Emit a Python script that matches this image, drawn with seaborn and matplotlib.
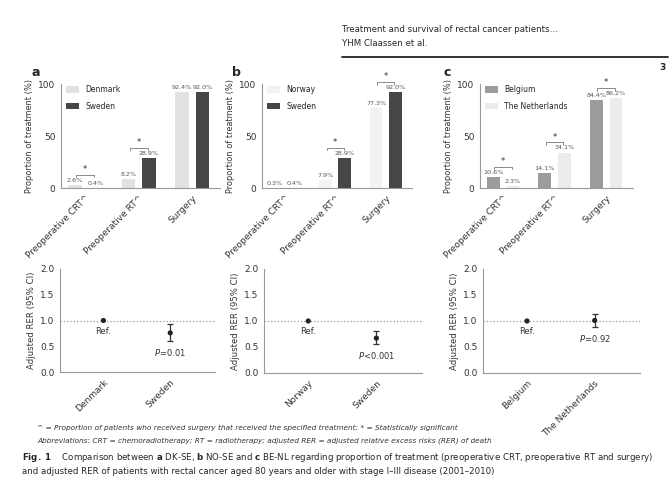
import matplotlib
matplotlib.use("Agg")
import matplotlib.pyplot as plt
import seaborn as sns
import pandas as pd

# treatment proportions (%)
treatments = ["Preoperative CRT^", "Preoperative RT^", "Surgery"]
denmark = [2.6, 8.2, 92.4]
sweden = [0.4, 28.9, 92.0]
norway = [0.3, 7.9, 77.3]
belgium = [10.6, 14.1, 84.4]
netherlands = [2.3, 34.1, 86.2]
sig_a = [True, True, False]
sig_b = [False, True, True]
sig_c = [True, True, True]

# adjusted RER (95% CI)
rer_a_names = ["Denmark", "Sweden"]
rer_a = [1.0, 0.76]
rer_a_lo = [1.0, 0.61]
rer_a_hi = [1.0, 0.94]
rer_a_notes = ["Ref.", r"$\it{P}$=0.01"]
rer_b_names = ["Norway", "Sweden"]
rer_b = [1.0, 0.67]
rer_b_lo = [1.0, 0.56]
rer_b_hi = [1.0, 0.81]
rer_b_notes = ["Ref.", r"$\it{P}$<0.001"]
rer_c_names = ["Belgium", "The Netherlands"]
rer_c = [1.0, 1.01]
rer_c_lo = [1.0, 0.89]
rer_c_hi = [1.0, 1.13]
rer_c_notes = ["Ref.", r"$\it{P}$=0.92"]

sns.set_style("white")
plt.rcParams['font.family'] = ['DejaVu Sans']
plt.rcParams['axes.edgecolor'] = '#999999'
plt.rcParams['xtick.color'] = '#999999'
plt.rcParams['ytick.color'] = '#999999'
plt.rcParams['xtick.labelcolor'] = '#333333'
plt.rcParams['ytick.labelcolor'] = '#333333'

W, H = 670, 504
fig = plt.figure(figsize=(W / 100, H / 100), dpi=100)


def box(x0, x1, y0, y1):
    return [x0 / W, 1 - y1 / H, (x1 - x0) / W, (y1 - y0) / H]


def style(ax):
    sns.despine(ax=ax)
    for s in ax.spines.values():
        s.set_linewidth(0.8)
    ax.tick_params(axis='both', length=2, width=0.6, labelsize=6.5, pad=2)
    for t in ax.get_xticklabels():
        t.set_rotation(45)
        t.set_ha('right')
        t.set_rotation_mode('anchor')


def bar_panel(rect, names, v1, v2, colors, sig, letter, letter_x):
    ax = fig.add_axes(box(*rect))
    df = pd.DataFrame({"treatment": treatments * 2,
                       "country": [names[0]] * 3 + [names[1]] * 3,
                       "value": v1 + v2})
    sns.barplot(data=df, x="treatment", y="value", hue="country",
                hue_order=names, palette=colors, width=0.76, gap=0.34,
                saturation=1, edgecolor='none', linewidth=0, ax=ax)
    for c in ax.containers:
        ax.bar_label(c, fmt="%.1f%%", fontsize=4.6, padding=1.5,
                     color='#555555', clip_on=False)
    for i, s in enumerate(sig):
        if s:
            y = max(v1[i], v2[i]) + 10
            ax.plot([i - 0.17, i - 0.17, i + 0.17, i + 0.17],
                    [y - 2.5, y, y, y - 2.5], color='#777777', lw=0.6,
                    clip_on=False)
            ax.text(i, y + 0.5, "*", ha='center', va='bottom', fontsize=6,
                    color='#333333', clip_on=False)
    ax.set_ylim(0, 100)
    ax.set_xlim(-0.45, 2.52)
    ax.set_yticks([0, 50, 100])
    ax.set_xlabel("")
    ax.set_ylabel("Proportion of treatment (%)", fontsize=5.9, color='#333333',
                  labelpad=3)
    h, l = ax.get_legend_handles_labels()
    ax.legend(h, l, frameon=False, loc='upper left', fontsize=5.5,
              handlelength=1.7, handleheight=0.9, labelspacing=1.0,
              bbox_to_anchor=(0.0, 1.04), borderaxespad=0.3)
    style(ax)
    fig.text(letter_x / W, 1 - 73 / H, letter, fontsize=9, fontweight='bold',
             va='center')
    return ax


def rer_panel(rect, names, est, lo, hi, notes):
    ax = fig.add_axes(box(*rect))
    ax.axhline(1.0, ls=':', color='#999999', lw=0.9, zorder=1)
    sns.scatterplot(x=names, y=est, ax=ax, color='#222222', s=14,
                    edgecolor='none', zorder=3)
    ax.errorbar(names[1:], est[1:],
                yerr=[[e - l for e, l in zip(est[1:], lo[1:])],
                      [h - e for e, h in zip(est[1:], hi[1:])]],
                fmt='none', ecolor='#333333', capsize=2, elinewidth=0.9,
                capthick=0.9, zorder=2)
    for i, n in enumerate(notes):
        ax.text(i, lo[i] - 0.12, n, ha='center', va='top', fontsize=6,
                color='#333333')
    ax.set_xlim(-0.65, 1.67)
    ax.set_ylim(0, 2)
    ax.set_yticks([0, 0.5, 1.0, 1.5, 2.0])
    ax.set_yticklabels(["0.0", "0.5", "1.0", "1.5", "2.0"])
    ax.set_ylabel("Adjusted RER (95% CI)", fontsize=6.1, color='#333333',
                  labelpad=3)
    style(ax)
    return ax


bar_panel((61, 220, 84, 188), ["Denmark", "Sweden"], denmark, sweden,
          ['#e2e2e2', '#464646'], sig_a, "a", 32)
bar_panel((262, 412, 84, 188), ["Norway", "Sweden"], norway, sweden,
          ['#f2f2f2', '#464646'], sig_b, "b", 232)
bar_panel((480, 633, 84, 188), ["Belgium", "The Netherlands"], belgium,
          netherlands, ['#9c9c9c', '#ececec'], sig_c, "c", 444)

rer_panel((60, 215, 269, 372), rer_a_names, rer_a, rer_a_lo, rer_a_hi, rer_a_notes)
rer_panel((264, 422, 269, 373), rer_b_names, rer_b, rer_b_lo, rer_b_hi, rer_b_notes)
rer_panel((483, 640, 269, 373), rer_c_names, rer_c, rer_c_lo, rer_c_hi, rer_c_notes)

# page header
fig.text(342 / W, 1 - 30 / H, "Treatment and survival of rectal cancer patients…",
         fontsize=6.2, va='center')
fig.text(342 / W, 1 - 44 / H, "YHM Claassen et al.", fontsize=6.2, va='center')
fig.add_artist(plt.Line2D([342 / W, 668 / W], [1 - 57 / H] * 2,
                          transform=fig.transFigure, color='#222222', lw=1.3))
fig.text(666 / W, 1 - 67 / H, "3", fontsize=6.5, fontweight='bold',
         ha='right', va='center')

# footnotes
fig.text(37 / W, 1 - 428 / H,
         "^ = Proportion of patients who received surgery that received the "
         "specified treatment; * = Statistically significant",
         fontsize=5.3, style='italic', color='#333333', va='center')
fig.text(37 / W, 1 - 441 / H,
         "Abbreviations: CRT = chemoradiotherapy; RT = radiotherapy; adjusted "
         "RER = adjusted relative excess risks (RER) of death",
         fontsize=5.3, style='italic', color='#333333', va='center')

# caption
fig.text(22 / W, 1 - 458 / H,
         r"$\mathbf{Fig.\ 1}$    Comparison between $\mathbf{a}$ DK-SE, "
         r"$\mathbf{b}$ NO-SE and $\mathbf{c}$ BE-NL regarding proportion of "
         "treatment (preoperative CRT, preoperative RT and surgery)",
         fontsize=6.2, va='center')
fig.text(22 / W, 1 - 471 / H,
         "and adjusted RER of patients with rectal cancer aged 80 years and "
         "older with stage I–III disease (2001–2010)",
         fontsize=6.2, va='center')

fig.savefig("out.png", dpi=100)
